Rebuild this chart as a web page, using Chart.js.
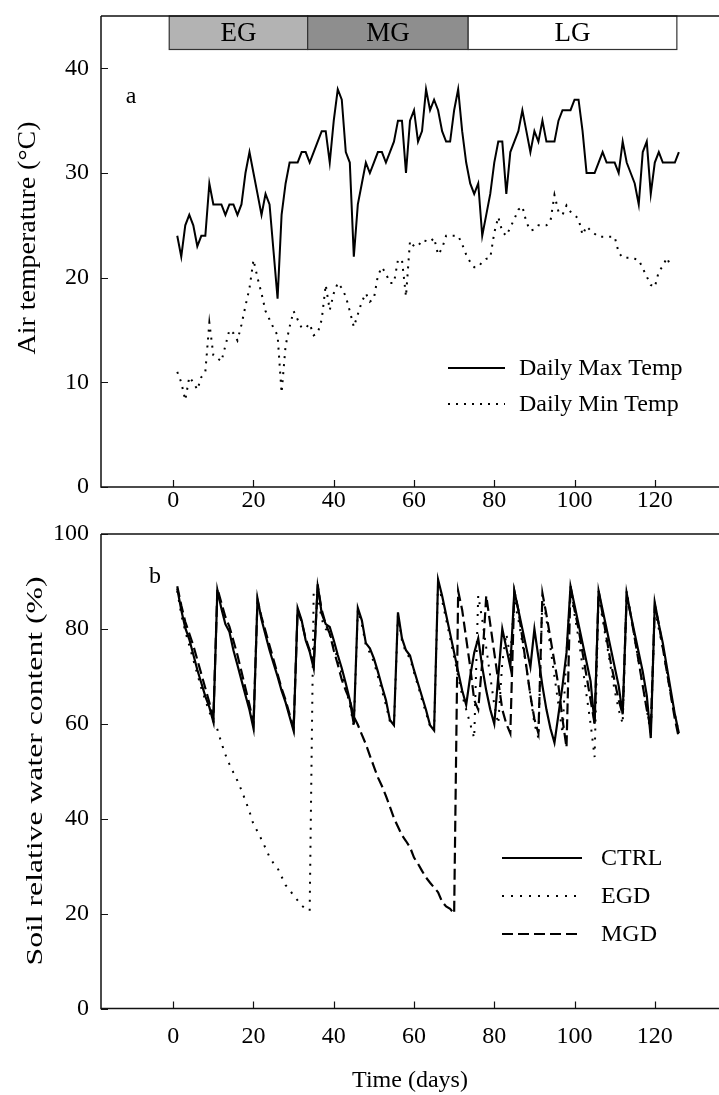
<!DOCTYPE html>
<html>
<head>
<meta charset="utf-8">
<title>Air temperature and soil relative water content</title>
<script src="https://cdn.jsdelivr.net/npm/chart.js@4.4.1/dist/chart.umd.min.js"></script>
<style>
  html, body { margin: 0; padding: 0; background: #fff; }
  body { position: relative; width: 719px; height: 1095px; overflow: hidden; }
  canvas { position: absolute; left: 0; }
  #tempChart { top: 0; }
  #waterChart { top: 515px; }
</style>
</head>
<body>
<canvas id="tempChart" width="719" height="525"></canvas>
<canvas id="waterChart" width="719" height="580"></canvas>
<script>
// ---- data ----
const xTicks = [0, 20, 40, 60, 80, 100, 120];
const tempTicks = [0, 10, 20, 30, 40];
const waterTicks = [0, 20, 40, 60, 80, 100];

const stageNames = ['EG', 'MG', 'LG'];
const stageStart = [-1, 33.5, 73.5];
const stageEnd = [33.5, 73.5, 125.5];
const stageFill = ['#b3b3b3', '#8e8e8e', '#ffffff'];

// daily values, day 1 onwards
const maxTemp = [24,22,25,26,25,23,24,24,29,27, 27,27,26,27,27,26,27,30,32,30,
  28,26,28,27,22.5,18,26,29,31,31, 31,32,32,31,32,33,34,34,31,35,
  38,37,32,31,22,27,29,31,30,31, 32,32,31,32,33,35,35,30,35,36,
  33,34,38,36,37,36,34,33,33,36, 38,34,31,29,28,29,24,26,28,31,
  33,33,28,32,33,34,36,34,32,34, 33,35,33,33,33,35,36,36,36,37,
  37,34,30,30,30,31,32,31,31,31, 30,33,31,30,29,27,32,33,28,31,
  32,31,31,31,31,32];

const minTemp = [11,10,8.3,10.5,10,9.3,10.5,11,15.7,12.6, 12.3,12,13.5,15,14.7,14,15.5,17.3,19,21.7,
  20,18.5,16.8,16,15.2,14.5,9,13.5,15.3,16.8, 16,15.2,15.2,15.6,14.5,14.7,16,19.3,16.9,18.5,
  19.5,19,18.2,16.8,15.3,16.5,17.7,18.5,17.7,18, 20.2,21,20.4,19.5,19.5,21.7,21.7,18.2,23.5,23,
  23,23.6,23.5,23.4,23.8,22.2,22.8,24,24,24, 24,23.2,22.2,21.5,21,21,21.5,21.8,21.9,24.3,
  25.8,24.4,24,24.8,25.6,26.5,26.8,25.3,24.5,24.6, 25,25,25,25.4,27.9,26.3,26,26.9,26.3,26,
  25.6,24.1,24.9,24.5,24.2,23.9,23.9,23.9,23.9,23.9, 22.4,21.9,21.9,21.9,21.8,21.7,20.9,20.1,19.3,19.1,
  20.6,21.1,21.9,21.1];

const ctrl = [88.5,84,80.2,77.8,74.6,71.4,68.6,65.8,63.5,60.4, 88.2,84.3,81,79.4,75.5,72.4,69.2,66,62.9,59,
  86.4,82,78.7,75.5,72.7,70,67,64.5,61.5,58.5, 84.4,81.8,77.6,75.2,71.7,89.4,83.2,81,80.4,77.6,
  74.5,71.7,68.5,65,59.9,84.4,81.8,77,75.9,73.8, 71,67.9,65,60.8,59.7,83.5,78,75.5,74.4,71.3,
  68.5,65.7,62.9,59.7,58.6,90.4,87,83,79,75, 71,67,64,70,75,78,72,67,63,60,
  70,80,76,72,88,84,80,76,72,80, 74,68,63,59,56,62,68,75,89,85,
  81,77,73,69,60,88,84,80,76,72, 68,62,87.5,83,79,75,71,66,57,85.5,
  81,77,72,67,62,58];

const egd = [88,83,79.5,76.5,73.5,70.5,67.5,65,62.5,60.5, 58.8,56,53.5,51.5,49.7,48,46,43.8,41.5,38.8,
  37.3,35.6,33.8,31.9,30.6,29.6,27.8,26,25,23.8, 22.8,21.7,21,20.6,88,87,82,80,79,76.5,
  73.5,70.5,67.5,64,59.5,84,81,76.5,75,73, 70,67,64,60.5,59.5,83,77.5,75,73.8,70.8,
  68,65,62.3,59.5,58.5,90,86,82,78,74, 70,66,63,60,57,87,82,76,70,64,
  60,73,79,74,86,82,77,72,66,60, 57,87,82,76,70,64,58,75,88,83,
  78,72,66,60,53,87,82,77,72,67, 63,60,88,83,78,73,68,63,58,84,
  80,76,71,66,62,58];

const mgd = [89,85,81.5,79,76.5,73.5,70.5,67.5,64.5,61, 88.5,85.5,82.5,80.5,77.5,74.5,71,67.5,64,60,
  86,82.5,79.5,76.5,73.5,70.5,67.5,65,62,59, 84,81.5,78,75.5,72.5,89,84,81,79,75.5,
  72.5,69.3,67,65,61.5,59.8,57.7,55.7,53.3,51, 48.7,46.9,44.8,42.5,40.1,38.3,36.5,35.3,34,31.8,
  30.5,29,27.6,26.5,25.5,24.5,22.5,21.5,21,20, 88,84,78,72,65,63,73,87,81,75,
  69,63,60,58,88,84,78,72,66,61, 58,87.5,83,78,73,68,61,55,89,84,
  80,75,70,65,60,88,83,78,73,69, 65,62,87,83,78,73,68,63,59,85,
  81,76,71,66,61,57];

// ---- drawing ----
const serif = "'Liberation Serif', 'Times New Roman', serif";
Chart.defaults.font.family = serif;
Chart.defaults.font.size = 24;
Chart.defaults.color = '#000';

const byDay = arr => arr.map((v, i) => ({ x: i + 1, y: v }));

function drawText(ctx, text, x, y, size, opts = {}) {
  ctx.save();
  ctx.translate(x, y);
  if (opts.rotate) ctx.rotate(opts.rotate);
  ctx.font = size + 'px ' + serif;
  ctx.fillStyle = '#000';
  ctx.textAlign = opts.align || 'center';
  ctx.textBaseline = 'middle';
  if (opts.length) ctx.scale(opts.length / ctx.measureText(text).width, 1);
  ctx.fillText(text, 0, 0);
  ctx.restore();
}

const decor = {
  id: 'decor',
  afterDatasetsDraw(chart, args, o) {
    const { ctx, chartArea: a, scales: { x, y } } = chart;
    ctx.save();

    if (o.stages) {
      const top = y.getPixelForValue(45), bot = y.getPixelForValue(41.8);
      stageNames.forEach((name, i) => {
        const l = x.getPixelForValue(stageStart[i]), r = x.getPixelForValue(stageEnd[i]);
        ctx.fillStyle = stageFill[i];
        ctx.fillRect(l, top, r - l, bot - top);
        ctx.strokeStyle = '#333';
        ctx.lineWidth = 1.2;
        ctx.strokeRect(l, top, r - l, bot - top);
        drawText(ctx, name, (l + r) / 2, (top + bot) / 2 + 1, 27);
      });
    }

    // axes frame: left, bottom, top
    ctx.strokeStyle = '#111';
    ctx.lineWidth = 1.5;
    ctx.beginPath();
    ctx.moveTo(a.left, a.top);
    ctx.lineTo(a.left, a.bottom);
    ctx.lineTo(a.right, a.bottom);
    ctx.moveTo(a.left, a.top);
    ctx.lineTo(a.right, a.top);
    ctx.stroke();

    // inward tick marks
    ctx.lineWidth = 1.2;
    ctx.beginPath();
    x.ticks.forEach(t => {
      const px = Math.round(x.getPixelForValue(t.value)) + 0.5;
      ctx.moveTo(px, a.bottom);
      ctx.lineTo(px, a.bottom - 7);
    });
    y.ticks.forEach(t => {
      const py = Math.round(y.getPixelForValue(t.value)) + 0.5;
      ctx.moveTo(a.left, py);
      ctx.lineTo(a.left + 7, py);
    });
    ctx.stroke();

    drawText(ctx, o.yTitle.text, o.yTitle.x, o.yTitle.y, o.yTitle.size,
      { rotate: -Math.PI / 2, length: o.yTitle.length });
    drawText(ctx, o.letter.text, o.letter.x, o.letter.y, 24);
    if (o.xTitle) drawText(ctx, o.xTitle.text, (a.left + a.right) / 2, o.xTitle.y, 24);

    // legend
    const lg = o.legend;
    chart.data.datasets.forEach((ds, i) => {
      const ly = lg.ys[i];
      ctx.strokeStyle = ds.borderColor;
      ctx.lineWidth = ds.borderWidth;
      ctx.setLineDash(ds.borderDash || []);
      ctx.beginPath();
      ctx.moveTo(lg.x0, ly);
      ctx.lineTo(lg.x1, ly);
      ctx.stroke();
      ctx.setLineDash([]);
      drawText(ctx, ds.label, lg.tx, ly + 1, 24, { align: 'left' });
    });
    ctx.restore();
  }
};

function xAxis(labelPad, height) {
  return {
    type: 'linear', min: -18, max: 136,
    afterBuildTicks: s => { s.ticks = xTicks.map(v => ({ value: v })); },
    afterFit: s => { s.height = height; s.paddingLeft = 0; s.paddingRight = 0; },
    grid: { display: false, drawTicks: false },
    border: { display: false },
    ticks: { padding: labelPad, maxRotation: 0 }
  };
}

function yAxis(max, values) {
  return {
    type: 'linear', min: 0, max: max,
    afterBuildTicks: s => { s.ticks = values.map(v => ({ value: v })); },
    afterFit: s => { s.width = 101; s.paddingTop = 0; s.paddingBottom = 0; },
    grid: { display: false, drawTicks: false },
    border: { display: false },
    ticks: { padding: 12 }
  };
}

const common = {
  responsive: false,
  animation: false,
  devicePixelRatio: 1,
  elements: { point: { radius: 0 }, line: { tension: 0, borderCapStyle: 'butt' } }
};

new Chart(document.getElementById('tempChart'), {
  type: 'line',
  data: {
    datasets: [
      { label: 'Daily Max Temp', data: byDay(maxTemp), borderColor: '#000', borderWidth: 2 },
      { label: 'Daily Min Temp', data: byDay(minTemp), borderColor: '#000', borderWidth: 2, borderDash: [2, 6] }
    ]
  },
  options: Object.assign({}, common, {
    layout: { padding: { top: 16, left: 0, right: 0, bottom: 0 } },
    scales: { x: xAxis(-1, 38), y: yAxis(45, tempTicks) },
    plugins: {
      legend: { display: false },
      tooltip: { enabled: false },
      decor: {
        stages: true,
        yTitle: { text: 'Air temperature (°C)', x: 28, y: 238, size: 26, length: 233 },
        letter: { text: 'a', x: 131, y: 97 },
        legend: { x0: 448, x1: 505, tx: 519, ys: [368, 404] }
      }
    }
  }),
  plugins: [decor]
});

new Chart(document.getElementById('waterChart'), {
  type: 'line',
  data: {
    datasets: [
      { label: 'CTRL', data: byDay(ctrl), borderColor: '#000', borderWidth: 2.2 },
      { label: 'EGD', data: byDay(egd), borderColor: '#000', borderWidth: 2, borderDash: [2, 7] },
      { label: 'MGD', data: byDay(mgd), borderColor: '#000', borderWidth: 2.2, borderDash: [11, 5] }
    ]
  },
  options: Object.assign({}, common, {
    layout: { padding: { top: 19, left: 0, right: 0, bottom: 0 } },
    scales: { x: xAxis(14, 86.5), y: yAxis(100, waterTicks) },
    plugins: {
      legend: { display: false },
      tooltip: { enabled: false },
      decor: {
        yTitle: { text: 'Soil relative water content (%)', x: 36, y: 256, size: 24, length: 389 },
        letter: { text: 'b', x: 155, y: 62 },
        xTitle: { text: 'Time (days)', y: 566 },
        legend: { x0: 502, x1: 582, tx: 601, ys: [343, 381, 419] }
      }
    }
  }),
  plugins: [decor]
});
</script>
</body>
</html>
